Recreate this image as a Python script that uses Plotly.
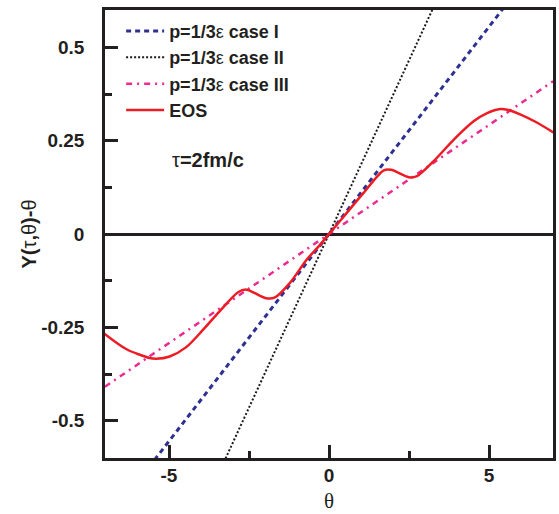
import plotly.graph_objects as go

# EOS curve
eos_theta = [-7.02, -6.34, -5.61, -5.40, -4.98, -4.46, -3.94, -3.42, -2.84, -2.58,
             -1.97, -1.69, -1.22, -0.70, -0.28, 0.0, 0.55, 1.08, 1.70, 1.94, 2.49,
             2.75, 3.27, 3.90, 4.52, 4.94, 5.36, 5.57, 5.99, 6.51, 7.01]
eos_y = [-0.267, -0.308, -0.332, -0.334, -0.328, -0.303, -0.257, -0.207, -0.156, -0.149,
         -0.172, -0.170, -0.131, -0.069, -0.029, 0.0, 0.056, 0.110, 0.170, 0.172, 0.152,
         0.155, 0.195, 0.253, 0.302, 0.324, 0.335, 0.333, 0.320, 0.298, 0.272]

# linear cases
case1_theta = [-7, 7]
case1_y = [-0.777, 0.777]
case2_theta = [-7, 7]
case2_y = [-1.302, 1.302]
case3_theta = [-7, 7]
case3_y = [-0.409, 0.409]

ytick_vals = [-0.5, -0.25, 0, 0.25, 0.5]
ytick_text = ["-0.5", "-0.25", "0", "0.25", "0.5"]
xtick_vals = [-5, 0, 5]
xtick_text = ["-5", "0", "5"]

FONT = "Liberation Sans"
INK = "#231f20"

fig = go.Figure()
fig.add_trace(go.Scatter(x=case1_theta, y=case1_y, mode="lines",
                         name="<b>p=1/3</b>ε<b> case I</b>",
                         line=dict(color="#2e3192", width=3, dash="5px,4px")))
fig.add_trace(go.Scatter(x=case2_theta, y=case2_y, mode="lines",
                         name="<b>p=1/3</b>ε<b> case II</b>",
                         line=dict(color="#1a1a1a", width=2, dash="2px,2px")))
fig.add_trace(go.Scatter(x=case3_theta, y=case3_y, mode="lines",
                         name="<b>p=1/3</b>ε<b> case III</b>",
                         line=dict(color="#ec2a90", width=2.5, dash="6px,5px,2px,5px")))
fig.add_trace(go.Scatter(x=eos_theta, y=eos_y, mode="lines",
                         name="<b>EOS</b>",
                         line=dict(color="#ed1c24", width=2.5, shape="spline", smoothing=0.8)))

fig.add_annotation(x=-3.79, y=0.197, xref="x", yref="y",
                   text="τ<b>=2fm/c</b>", showarrow=False,
                   font=dict(family=FONT, size=20, color=INK))
fig.add_annotation(x=0.5, y=-0.096, xref="paper", yref="paper",
                   xanchor="center", yanchor="middle",
                   text="θ", showarrow=False,
                   font=dict(family="Liberation Serif", size=21, color=INK))

axis_common = dict(showline=True, linecolor=INK, linewidth=2.5, mirror=True,
                   ticks="inside", ticklen=13, tickwidth=2.5, tickcolor=INK,
                   showgrid=False, automargin=False,
                   tickfont=dict(family=FONT, size=19, color=INK, weight="bold"))

fig.update_xaxes(range=[-7, 7], tickmode="array", tickvals=xtick_vals, ticktext=xtick_text,
                 zeroline=False, ticklabelstandoff=-2,
                 minor=dict(ticks="inside", ticklen=7, tickwidth=2.5, tickcolor=INK,
                            tickvals=[-2.5, 2.5]),
                 **axis_common)
fig.update_yaxes(range=[-0.6, 0.6], tickmode="array", tickvals=ytick_vals, ticktext=ytick_text,
                 zeroline=True, zerolinecolor=INK, zerolinewidth=2.5,
                 ticklabelstandoff=14,
                 minor=dict(ticks="inside", ticklen=7, tickwidth=2.5, tickcolor=INK,
                            tickvals=[-0.375, -0.125, 0.125, 0.375]),
                 title=dict(text="<b>Y(</b>τ<b>,</b>θ<b>)-</b>θ",
                            font=dict(family=FONT, size=20, color=INK), standoff=0),
                 **axis_common)

fig.update_layout(
    width=559, height=514,
    margin=dict(l=105, r=6, t=10, b=56),
    paper_bgcolor="white", plot_bgcolor="white",
    showlegend=True,
    legend=dict(x=0.036, y=0.994, xanchor="left", yanchor="top",
                bgcolor="rgba(0,0,0,0)", itemwidth=38,
                font=dict(family=FONT, size=18, color=INK),
                tracegroupgap=0),
)

fig.write_html("out.html")
